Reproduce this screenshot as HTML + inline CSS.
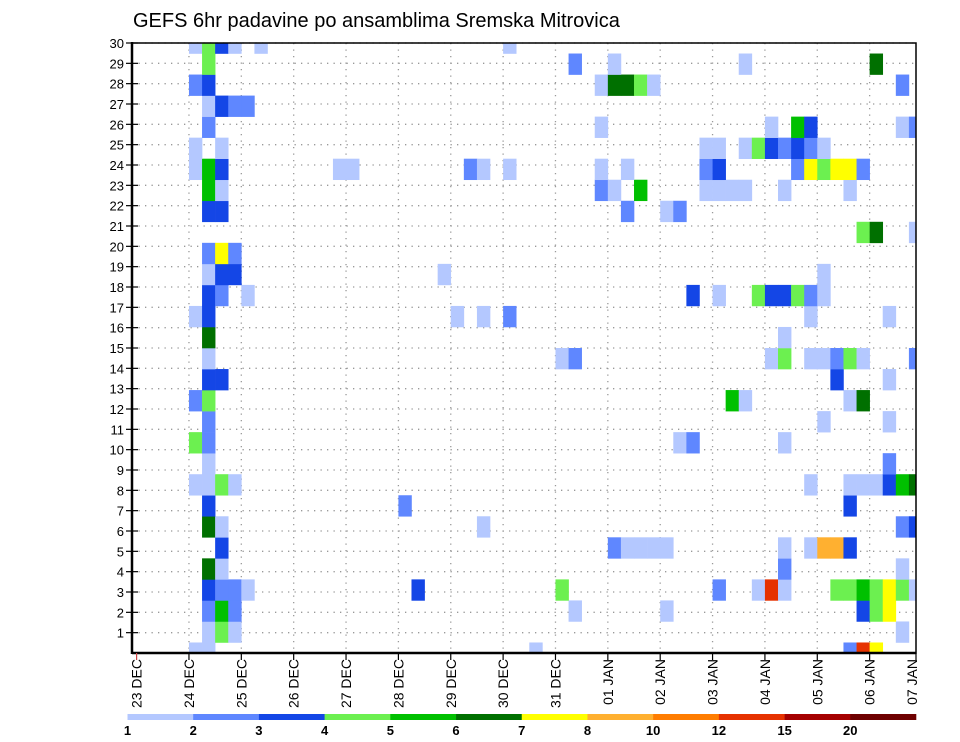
<!DOCTYPE html>
<html><head><meta charset="utf-8">
<style>
html,body{margin:0;padding:0;background:#fff;}
svg{display:block;font-family:"Liberation Sans",sans-serif;}
</style></head>
<body>
<svg id="chart" width="960" height="742" viewBox="0 0 960 742" xmlns="http://www.w3.org/2000/svg">
<rect x="0" y="0" width="960" height="742" fill="#fff"/>
<text x="133" y="27" font-size="20" fill="#000">GEFS 6hr padavine po ansamblima Sremska Mitrovica</text>
<defs><clipPath id="plotclip"><rect x="132" y="43" width="784" height="610"/></clipPath></defs>
<g id="grid"></g>
<g id="cells" clip-path="url(#plotclip)"></g>
<g id="axes"></g>
<g id="legend"></g>
</svg>
<script>
// ---- data ----
const dayLabels = ["23 DEC","24 DEC","25 DEC","26 DEC","27 DEC","28 DEC","29 DEC","30 DEC","31 DEC","01 JAN","02 JAN","03 JAN","04 JAN","05 JAN","06 JAN","07 JAN"];
const memberTicks = [1,2,3,4,5,6,7,8,9,10,11,12,13,14,15,16,17,18,19,20,21,22,23,24,25,26,27,28,29,30];
const levelBounds = [1,2,3,4,5,6,7,8,10,12,15,20];
const levelColors = ["#b4c8ff","#5f87ff","#1446e6","#6cf050","#00c000","#007000","#ffff00","#ffb030","#ff7d00","#e63200","#a50000","#6e0000"];
// category code per cell: L=1.5 M=2.5 B=3.5 G5=4.5 G6=5.5 DG=6.5 Y=7.5 O=9 R=13 (mm)
const rowCells = {
 29:[[0,1.5],[1,4.5],[2,3.5],[3,1.5],[5,1.5],[24,1.5]],
 28:[[1,4.5],[29,2.5],[32,1.5],[42,1.5],[52,6.5]],
 27:[[0,2.5],[1,3.5],[31,1.5],[32,6.5],[33,6.5],[34,4.5],[35,1.5],[54,2.5]],
 26:[[1,1.5],[2,3.5],[3,2.5],[4,2.5]],
 25:[[1,2.5],[31,1.5],[44,1.5],[46,5.5],[47,3.5],[54,1.5],[55,2.5]],
 24:[[0,1.5],[2,1.5],[39,1.5],[40,1.5],[42,1.5],[43,4.5],[44,3.5],[45,2.5],[46,3.5],[47,2.5],[48,1.5]],
 23:[[0,1.5],[1,5.5],[2,3.5],[11,1.5],[12,1.5],[21,2.5],[22,1.5],[24,1.5],[31,1.5],[33,1.5],[39,2.5],[40,3.5],[46,2.5],[47,7.5],[48,4.5],[49,7.5],[50,7.5],[51,2.5]],
 22:[[1,5.5],[2,1.5],[31,2.5],[32,1.5],[34,5.5],[39,1.5],[40,1.5],[41,1.5],[42,1.5],[45,1.5],[50,1.5]],
 21:[[1,3.5],[2,3.5],[33,2.5],[36,1.5],[37,2.5]],
 20:[[51,4.5],[52,6.5],[55,1.5]],
 19:[[1,2.5],[2,7.5],[3,2.5]],
 18:[[1,1.5],[2,3.5],[3,3.5],[19,1.5],[48,1.5]],
 17:[[1,3.5],[2,2.5],[4,1.5],[38,3.5],[40,1.5],[43,4.5],[44,3.5],[45,3.5],[46,4.5],[47,2.5],[48,1.5]],
 16:[[0,1.5],[1,3.5],[20,1.5],[22,1.5],[24,2.5],[47,1.5],[53,1.5]],
 15:[[1,6.5],[45,1.5]],
 14:[[1,1.5],[28,1.5],[29,2.5],[44,1.5],[45,4.5],[47,1.5],[48,1.5],[49,2.5],[50,4.5],[51,1.5],[55,2.5]],
 13:[[1,3.5],[2,3.5],[49,3.5],[53,1.5]],
 12:[[0,2.5],[1,4.5],[41,5.5],[42,1.5],[50,1.5],[51,6.5]],
 11:[[1,2.5],[48,1.5],[53,1.5]],
 10:[[0,4.5],[1,2.5],[37,1.5],[38,2.5],[45,1.5]],
 9:[[1,1.5],[53,2.5]],
 8:[[0,1.5],[1,1.5],[2,4.5],[3,1.5],[47,1.5],[50,1.5],[51,1.5],[52,1.5],[53,3.5],[54,5.5],[55,6.5]],
 7:[[1,3.5],[16,2.5],[50,3.5]],
 6:[[1,6.5],[2,1.5],[22,1.5],[54,2.5],[55,3.5]],
 5:[[2,3.5],[32,2.5],[33,1.5],[34,1.5],[35,1.5],[36,1.5],[45,1.5],[47,1.5],[48,9],[49,9],[50,3.5]],
 4:[[1,6.5],[2,1.5],[45,2.5],[54,1.5]],
 3:[[1,3.5],[2,2.5],[3,2.5],[4,1.5],[17,3.5],[28,4.5],[40,2.5],[43,1.5],[44,13],[45,1.5],[49,4.5],[50,4.5],[51,5.5],[52,4.5],[53,7.5],[54,4.5],[55,1.5]],
 2:[[1,2.5],[2,5.5],[3,2.5],[29,1.5],[36,1.5],[51,3.5],[52,4.5],[53,7.5]],
 1:[[1,1.5],[2,4.5],[3,1.5],[54,1.5]],
 0:[[0,1.5],[1,1.5],[26,1.5],[50,2.5],[51,13],[52,7.5]]
};
// ---- scales ----
const NS="http://www.w3.org/2000/svg";
const X0=136.6, DAY=52.36, STEP=DAY/4;
const PL=132, PR=916, PT=43, PB=653;
const ROWH=(PB-PT)/29;
function xDay(d){return X0+d*DAY;}
function xStep(c){return X0+DAY+c*STEP;}
function yRow(k){return PB-k*ROWH;}
function yTick(m){return PB-m*(PB-PT)/30;}
function colorFor(v){let i=0;for(let j=0;j<levelBounds.length;j++){if(v>=levelBounds[j])i=j;}return levelColors[i];}
function mk(tag,attrs,parent){const e=document.createElementNS(NS,tag);for(const k in attrs)e.setAttribute(k,attrs[k]);parent.appendChild(e);return e;}

const grid=document.getElementById('grid');
const cells=document.getElementById('cells');
const axes=document.getElementById('axes');
const legend=document.getElementById('legend');

// grid
memberTicks.forEach(m=>{
  const l=mk('line',{x1:PL,x2:PR,y1:yTick(m),y2:yTick(m),stroke:'#999','stroke-width':1.3,'stroke-dasharray':'1.3,5.2'},grid);
  
  
});
dayLabels.forEach((d,i)=>{
  if(i===0||xDay(i)>PR)return;
  const l=mk('line',{x1:xDay(i),x2:xDay(i),y1:PT,y2:PB,stroke:'#999','stroke-width':1.3,'stroke-dasharray':'1.3,5.2'},grid);
  
  
});

// cells
Object.keys(rowCells).forEach(k=>{
  rowCells[k].forEach(([c,v])=>{
    const r=mk('rect',{x:xStep(c),y:yRow(+k)-ROWH/2,width:STEP+0.3,height:ROWH+0.3,fill:colorFor(v)},cells);
    
    
  });
});

// axes frame
const frame=mk('rect',{x:PL,y:PT,width:PR-PL,height:PB-PT,fill:'none',stroke:'#000','stroke-width':1.5},axes);


const la=mk('line',{x1:PL,x2:PL,y1:PT-1,y2:PB+1,stroke:'#000','stroke-width':2.5},axes);


const ba=mk('line',{x1:PL,x2:PR,y1:PB,y2:PB,stroke:'#000','stroke-width':2.5},axes);



// y ticks + labels
memberTicks.forEach(m=>{
  const t=mk('line',{x1:PL-6,x2:PL+6,y1:yTick(m),y2:yTick(m),stroke:'#000','stroke-width':1.2},axes);
  
  
  const tx=mk('text',{x:PL-8,y:yTick(m)+5,'font-size':13,'text-anchor':'end',fill:'#000'},axes);
  tx.textContent=m;
  
  
});

// x ticks + labels
dayLabels.forEach((d,i)=>{
  let x=xDay(i);
  const t=mk('line',{x1:Math.min(x,PR),x2:Math.min(x,PR),y1:PB,y2:PB+7,stroke:i===0?'#c44':'#000','stroke-width':1.2},axes);
  
  
  const lx=Math.min(x,912)+5;
  const tx=mk('text',{x:0,y:0,'font-size':14,'text-anchor':'end',fill:'#000',transform:'translate('+lx+',659) rotate(-90)'},axes);
  tx.textContent=d;
  
  
});

// colorbar
const CB0=127.5, CBW=(916-127.5)/12;
levelColors.forEach((c,i)=>{
  const r=mk('rect',{x:CB0+i*CBW,y:714,width:CBW+0.3,height:6,fill:c},legend);
  
  
});
levelBounds.forEach((b,i)=>{
  const tx=mk('text',{x:CB0+i*CBW,y:735,'font-size':13,'font-weight':'bold','text-anchor':'middle',fill:'#000'},legend);
  tx.textContent=b;
  
  
});
</script>
</body></html>
